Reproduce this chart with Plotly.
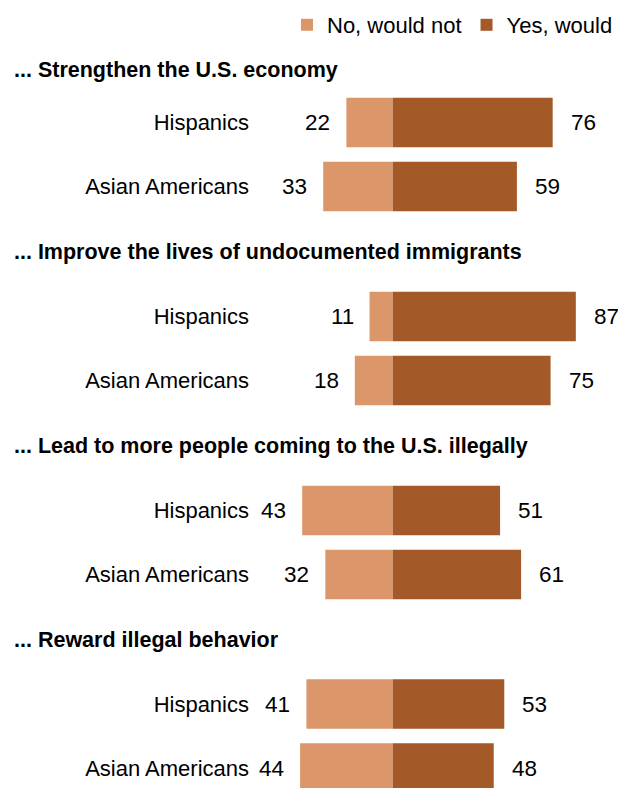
import plotly.graph_objects as go

# ---- data ----
topics = [
    "... Strengthen the U.S. economy",
    "... Improve the lives of undocumented immigrants",
    "... Lead to more people coming to the U.S. illegally",
    "... Reward illegal behavior",
]
groups = ["Hispanics", "Asian Americans"]
no_would_not = [[22, 33], [11, 18], [43, 32], [41, 44]]
yes_would = [[76, 59], [87, 75], [51, 61], [53, 48]]
series_names = ["No, would not", "Yes, would"]

# ---- style / layout constants ----
W, H = 618, 788
FONT = "Liberation Sans, Arial, sans-serif"
C_NO = "#DB976A"
C_YES = "#A35A28"
ROW_PX = 64
GROUP_TOPS_PX = [90.5, 284.5, 478.5, 672]
TITLE_BASELINES_PX = [77, 259, 453, 647]
CENTER_PX = 392.7
PX_PER_UNIT = 2.105
X_DOMAIN_LEFT_PX = 254

x_range = [(X_DOMAIN_LEFT_PX - CENTER_PX) / PX_PER_UNIT, (W - CENTER_PX) / PX_PER_UNIT]

fig = go.Figure()
annotations = []

for i, topic in enumerate(topics):
    n = i + 1
    xa = "x" if n == 1 else f"x{n}"
    ya = "y" if n == 1 else f"y{n}"
    fig.add_trace(go.Bar(
        y=groups, x=[-v for v in no_would_not[i]], orientation="h",
        name=series_names[0], marker=dict(color=C_NO, line=dict(width=0)),
        showlegend=(i == 0), legendgroup="no", xaxis=xa, yaxis=ya,
        hoverinfo="skip",
    ))
    fig.add_trace(go.Bar(
        y=groups, x=yes_would[i], orientation="h",
        name=series_names[1], marker=dict(color=C_YES, line=dict(width=0)),
        showlegend=(i == 0), legendgroup="yes", xaxis=xa, yaxis=ya,
        hoverinfo="skip",
    ))

    top = GROUP_TOPS_PX[i]
    bottom = min(top + ROW_PX * len(groups), H)
    yr_bottom = (len(groups) - 0.5) - (top + ROW_PX * len(groups) - bottom) / ROW_PX
    dom = [1 - bottom / H, 1 - top / H]
    key = "" if n == 1 else str(n)
    fig.update_layout(**{
        f"xaxis{key}": dict(domain=[X_DOMAIN_LEFT_PX / W, 1], range=x_range,
                            visible=False, fixedrange=True, anchor=ya),
        f"yaxis{key}": dict(domain=dom, range=[yr_bottom, -0.5], type="category",
                            categoryorder="array", categoryarray=groups,
                            showgrid=False, zeroline=False, showline=False,
                            ticks="", ticklabelstandoff=4, anchor=xa, fixedrange=True,
                            tickfont=dict(family=FONT, size=22, color="#000")),
    })

    # value labels
    for g, nv, yv in zip(groups, no_would_not[i], yes_would[i]):
        annotations.append(dict(x=-nv, y=g, xref=xa, yref=ya, text=str(nv),
                                xanchor="right", yanchor="middle", xshift=-14,
                                showarrow=False,
                                font=dict(family=FONT, size=22.5, color="#000")))
        annotations.append(dict(x=yv, y=g, xref=xa, yref=ya, text=str(yv),
                                xanchor="left", yanchor="middle", xshift=16,
                                showarrow=False,
                                font=dict(family=FONT, size=22.5, color="#000")))
    # topic title
    annotations.append(dict(x=12 / W, y=1 - (TITLE_BASELINES_PX[i] - 7) / H,
                            xref="paper", yref="paper", text=f"<b>{topic}</b>",
                            xanchor="left", yanchor="middle", showarrow=False,
                            font=dict(family=FONT, size=21.5, color="#000")))

fig.update_layout(
    width=W, height=H,
    margin=dict(l=0, r=0, t=0, b=0),
    barmode="relative", bargap=0.23,
    plot_bgcolor="white", paper_bgcolor="white",
    annotations=annotations,
    legend=dict(orientation="h", x=1, xanchor="right", y=1 - 25 / H, yanchor="middle",
                font=dict(family=FONT, size=22, color="#000"),
                traceorder="normal", itemwidth=30, bgcolor="rgba(0,0,0,0)"),
    showlegend=True,
)

fig.write_html(
    "out.html",
    config={"displayModeBar": False, "staticPlot": False},
    post_script="document.body.style.margin='0';document.body.style.overflow='hidden';",
)
